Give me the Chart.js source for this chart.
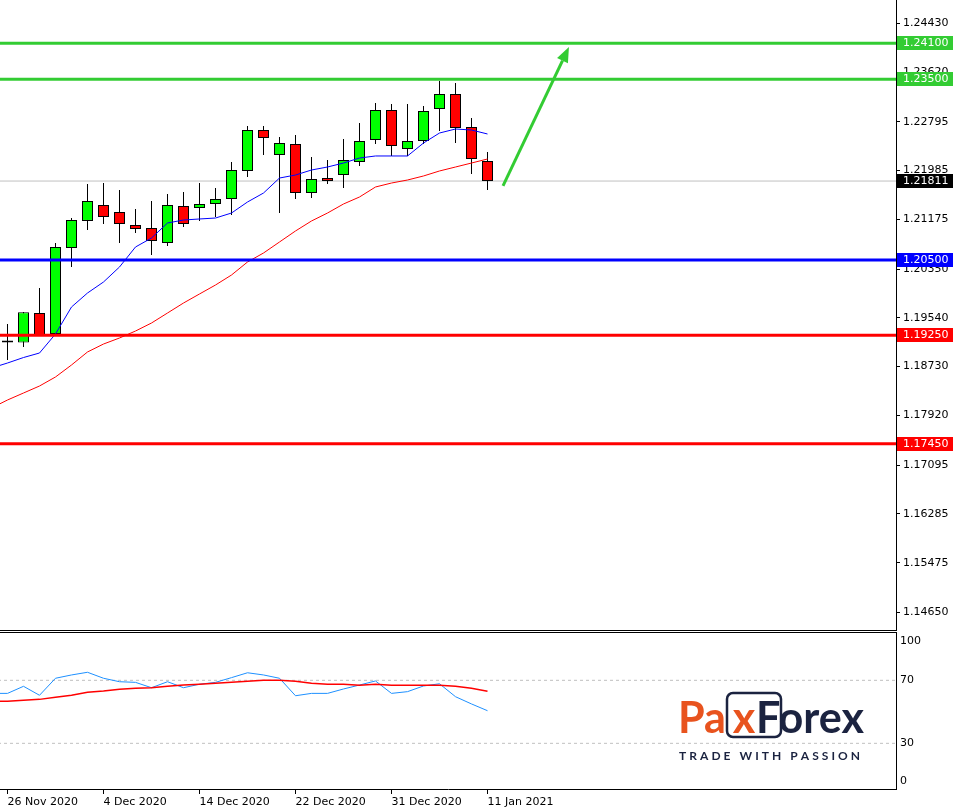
<!DOCTYPE html>
<html>
<head>
<meta charset="utf-8">
<script src="https://cdn.jsdelivr.net/npm/chart.js@4.4.1/dist/chart.umd.min.js"></script>
<style>
  html, body { margin: 0; padding: 0; background: #fff; }
  #wrap { position: relative; width: 960px; height: 812px; overflow: hidden; }
  canvas { position: absolute; left: 0; }
  #main { top: 0; }
  #osc { top: 631px; }
</style>
</head>
<body>
<div id="wrap">
  <canvas id="main" width="960" height="631"></canvas>
  <canvas id="osc" width="960" height="181"></canvas>
</div>
<script>
// daily candles, 26 Nov 2020 .. 11 Jan 2021
const opens  = [1.19164, 1.19130, 1.19620, 1.19272, 1.20699, 1.21148, 1.21413, 1.21297, 1.21081, 1.21031,
                1.20782, 1.21397, 1.21363, 1.21430, 1.21513, 1.21978, 1.22658, 1.22243, 1.22426, 1.21612,
                1.21861, 1.21911, 1.22127, 1.22492, 1.22990, 1.22343, 1.22476, 1.23007, 1.23256, 1.22708, 1.22144];
const highs  = [1.19438, 1.19637, 1.20035, 1.20782, 1.21197, 1.21762, 1.21778, 1.21662, 1.21347, 1.21480,
                1.21596, 1.21629, 1.21778, 1.21695, 1.22127, 1.22725, 1.22725, 1.22542, 1.22575, 1.22210,
                1.22160, 1.22509, 1.22774, 1.23107, 1.23090, 1.23090, 1.23057, 1.23472, 1.23439, 1.22857, 1.22293];
const lows   = [1.18840, 1.19056, 1.19238, 1.19238, 1.20384, 1.20998, 1.21098, 1.20782, 1.20948, 1.20583,
                1.20733, 1.21048, 1.21148, 1.21214, 1.21247, 1.21878, 1.22243, 1.21280, 1.21513, 1.21529,
                1.21762, 1.21695, 1.22061, 1.22426, 1.22227, 1.22227, 1.22426, 1.22642, 1.22442, 1.21928, 1.21662];
const closes = [1.19130, 1.19632, 1.19255, 1.20716, 1.21164, 1.21480, 1.21214, 1.21098, 1.21015, 1.20815,
                1.21413, 1.21098, 1.21430, 1.21513, 1.21994, 1.22658, 1.22525, 1.22442, 1.21612, 1.21845,
                1.21812, 1.22160, 1.22476, 1.22990, 1.22393, 1.22476, 1.22974, 1.23256, 1.22691, 1.22177, 1.21811];

// moving averages and oscillator start one bar before the first candle
const maFast = [1.18707, 1.18790, 1.18881, 1.18956, 1.19272, 1.19720, 1.19952, 1.20135, 1.20384, 1.20716,
                1.20865, 1.21114, 1.21164, 1.21181, 1.21197, 1.21280, 1.21463, 1.21612, 1.21861, 1.21911,
                1.21994, 1.22044, 1.22110, 1.22193, 1.22227, 1.22227, 1.22227, 1.22442, 1.22608, 1.22675,
                1.22658, 1.22592];
const maSlow = [1.18043, 1.18176, 1.18292, 1.18408, 1.18558, 1.18757, 1.18973, 1.19105, 1.19205, 1.19321,
                1.19454, 1.19620, 1.19786, 1.19936, 1.20085, 1.20251, 1.20467, 1.20616, 1.20799, 1.20982,
                1.21148, 1.21280, 1.21430, 1.21546, 1.21712, 1.21778, 1.21828, 1.21895, 1.21978, 1.22044,
                1.22110, 1.22177];
const oscMain   = [61.7, 61.7, 66.2, 60.5, 71.3, 73.4, 75.1, 71.3, 69.1, 68.7, 65.3, 69.1, 65.3, 67.5, 68.7, 71.7,
                   74.8, 73.4, 71.3, 60.2, 61.7, 61.7, 64.5, 67.0, 69.6, 61.7, 62.8, 66.4, 67.8, 59.6, 55.0, 50.7];
const oscSignal = [56.7, 56.7, 57.3, 57.9, 59.2, 60.5, 62.4, 63.2, 64.3, 64.9, 65.3, 66.2, 67.0, 67.5, 68.1, 68.7,
                   69.4, 70.0, 70.0, 69.4, 68.1, 67.5, 67.5, 66.8, 67.5, 66.8, 66.8, 66.8, 66.8, 66.2, 64.9, 63.0];
const FIRST = -1;

const priceTicks = [1.24430, 1.23620, 1.22795, 1.21985, 1.21175, 1.20350, 1.19540,
                    1.18730, 1.17920, 1.17095, 1.16285, 1.15475, 1.14650];
const levelValues = [1.2410, 1.2350, 1.2050, 1.1925, 1.1745];
const levelColors = ['#33CC33', '#33CC33', '#0000FF', '#FF0000', '#FF0000'];
const lastPrice = 1.21811;

const dateLabels  = ['26 Nov 2020', '4 Dec 2020', '14 Dec 2020', '22 Dec 2020', '31 Dec 2020', '11 Jan 2021'];
const dateTickIdx = [0, 6, 12, 18, 24, 30];
const oscLevels = [70, 30];
const oscTickLabels = [100, 70, 30, 0];

const arrowFrom = {x: 30.97, y: 1.21729};
const arrowTo   = {x: 35.09, y: 1.24036};

Chart.defaults.font.family = '"DejaVu Sans", sans-serif';
Chart.defaults.font.size = 11;
Chart.defaults.color = '#000';
Chart.defaults.animation = false;

const X_MIN = -0.46875, X_MAX = 55.53125;   // 16px per bar, first bar at 7.5px
const FONT = '11px "DejaVu Sans", sans-serif';

const series = (arr, start) => arr.map((v, k) => ({x: start + k, y: v}));
const hline = v => [{x: X_MIN - 2, y: v}, {x: X_MAX + 2, y: v}];

// price boxes on the right axis
const levelBoxes = {
  id: 'levelBoxes',
  afterDraw(chart) {
    const ctx = chart.ctx, y = chart.scales.y, left = chart.chartArea.right + 1;
    const boxes = levelValues.map((v, k) => ({v, c: levelColors[k]}));
    boxes.push({v: lastPrice, c: '#000'});
    ctx.save();
    // bottom edge of the price panel
    ctx.fillStyle = '#000';
    ctx.fillRect(0, 630, chart.chartArea.right + 1, 1);
    ctx.font = FONT;
    ctx.textBaseline = 'middle';
    boxes.forEach(b => {
      const py = Math.round(y.getPixelForValue(b.v));
      ctx.fillStyle = b.c;
      ctx.fillRect(left, py - 7, 56, 14);
      ctx.fillStyle = '#fff';
      ctx.fillText(b.v.toFixed(5), left + 6, py + 0.5);
    });
    ctx.restore();
  }
};

const trendArrow = {
  id: 'trendArrow',
  afterDatasetsDraw(chart) {
    const {ctx, scales: {x, y}} = chart;
    const x0 = x.getPixelForValue(arrowFrom.x), y0 = y.getPixelForValue(arrowFrom.y);
    const x1 = x.getPixelForValue(arrowTo.x),   y1 = y.getPixelForValue(arrowTo.y);
    const a = Math.atan2(y1 - y0, x1 - x0), head = 15, half = 6;
    const bx = x1 - head * Math.cos(a), by = y1 - head * Math.sin(a);
    ctx.save();
    ctx.strokeStyle = ctx.fillStyle = '#33CC33';
    ctx.lineWidth = 3;
    ctx.beginPath(); ctx.moveTo(x0, y0); ctx.lineTo(bx, by); ctx.stroke();
    ctx.beginPath();
    ctx.moveTo(x1, y1);
    ctx.lineTo(bx + half * Math.sin(a), by - half * Math.cos(a));
    ctx.lineTo(bx - half * Math.sin(a), by + half * Math.cos(a));
    ctx.closePath(); ctx.fill();
    ctx.restore();
  }
};

new Chart(document.getElementById('main'), {
  type: 'bar',
  data: {
    datasets: [
      ...levelValues.map((v, k) => ({
        type: 'line', data: hline(v), borderColor: levelColors[k], borderWidth: 3, clip: 0, order: 0
      })),
      {type: 'line', data: series(maFast, FIRST), borderColor: '#0000FF', borderWidth: 1, clip: 0, order: 1},
      {type: 'line', data: series(maSlow, FIRST), borderColor: '#FF0000', borderWidth: 1, clip: 0, order: 1},
      {
        type: 'bar', data: opens.map((o, i) => ({x: i, y: [o, closes[i]]})),
        backgroundColor: c => closes[c.dataIndex] >= opens[c.dataIndex] ? '#00FF00' : '#FF0000',
        borderColor: '#000', borderWidth: 1, borderSkipped: false, inflateAmount: 0,
        barThickness: 11, grouped: false, order: 2
      },
      {
        type: 'bar', data: highs.map((h, i) => ({x: i, y: [lows[i], h]})),
        backgroundColor: '#000', borderWidth: 0, inflateAmount: 0,
        barThickness: 1, grouped: false, order: 3
      },
      {type: 'line', data: hline(lastPrice), borderColor: '#C0C0C0', borderWidth: 1, clip: 0, order: 4}
    ]
  },
  options: {
    responsive: false, devicePixelRatio: 1, events: [],
    layout: {padding: 0},
    elements: {point: {radius: 0}, line: {tension: 0}},
    plugins: {legend: {display: false}, tooltip: {enabled: false}},
    scales: {
      x: {type: 'linear', min: X_MIN, max: X_MAX, bounds: 'data', offset: false, display: false},
      y: {
        type: 'linear', position: 'right', min: 1.143408, max: 1.248165, bounds: 'data', beginAtZero: false,
        afterBuildTicks: s => { s.ticks = priceTicks.map(v => ({value: v})); },
        afterFit: s => { s.width = 64; s.paddingTop = 0; s.paddingBottom = 0; },
        grid: {display: true, drawOnChartArea: false, tickLength: 4, color: '#000'},
        border: {display: true, color: '#000', width: 1},
        ticks: {color: '#000', padding: 3, autoSkip: false, font: {size: 11}, callback: v => v.toFixed(5)}
      }
    }
  },
  plugins: [trendArrow, levelBoxes]
});

// oscillator panel
const oscFrame = {
  id: 'oscFrame',
  afterDraw(chart) {
    const {ctx, chartArea, scales: {y}} = chart;
    ctx.save();
    ctx.fillStyle = '#000';
    ctx.fillRect(0, chartArea.top, chartArea.right + 1, 1);
    ctx.font = FONT;
    ctx.textBaseline = 'middle';
    oscTickLabels.forEach(v => {
      const py = Math.min(Math.max(y.getPixelForValue(v), chartArea.top + 9), chartArea.bottom - 8);
      ctx.fillText(String(v), chartArea.right + 4, py);
    });
    ctx.restore();
  }
};

const logo = {
  id: 'logo',
  afterDraw(chart) {
    const ctx = chart.ctx, off = 631;
    const orange = '#E8531E', navy = '#1B2340';
    const face = 'Lato, "Open Sans", sans-serif';
    ctx.save();
    ctx.font = `bold 42px ${face}`;
    const size = 42 * 108 / ctx.measureText('Forex').width;
    ctx.font = `bold ${size}px ${face}`;
    const base = 733 - off;
    const boxL = 727, boxR = 781;
    const xW = ctx.measureText('x').width;
    ctx.fillStyle = orange;
    ctx.fillText('Pa', 678, base);
    ctx.fillText('x', boxL + 4 + (26 - xW) / 2, base);
    ctx.fillStyle = navy;
    ctx.fillText('Forex', 756, base);
    ctx.strokeStyle = navy;
    ctx.lineWidth = 2.5;
    ctx.beginPath();
    ctx.roundRect(boxL, 693 - off, boxR - boxL, 44, 6);
    ctx.stroke();
    // tagline
    const tag = 'TRADE WITH PASSION';
    ctx.font = `bold 12px ${face}`;
    const plain = [...tag].reduce((s, ch) => s + ctx.measureText(ch).width, 0);
    const gap = (181 - plain) / (tag.length - 1);
    let tx = 679;
    [...tag].forEach(ch => { ctx.fillText(ch, tx, 760 - off); tx += ctx.measureText(ch).width + gap; });
    ctx.restore();
  }
};

new Chart(document.getElementById('osc'), {
  type: 'line',
  data: {
    datasets: [
      {data: series(oscSignal, FIRST), borderColor: '#FF0000', borderWidth: 1.5, clip: 0, order: 0},
      {data: series(oscMain, FIRST), borderColor: '#1E90FF', borderWidth: 1, clip: 0, order: 1},
      ...oscLevels.map(v => ({data: hline(v), borderColor: '#C0C0C0', borderWidth: 1, borderDash: [3, 3], clip: 0, order: 2}))
    ]
  },
  options: {
    responsive: false, devicePixelRatio: 1, events: [],
    layout: {padding: {top: 1, left: 0, right: 0, bottom: 0}},
    elements: {point: {radius: 0}, line: {tension: 0}},
    plugins: {legend: {display: false}, tooltip: {enabled: false}},
    scales: {
      x: {
        type: 'linear', min: X_MIN, max: X_MAX, bounds: 'data', offset: false,
        afterBuildTicks: s => { s.ticks = dateTickIdx.map(v => ({value: v})); },
        afterFit: s => { s.height = 23; s.paddingLeft = 0; s.paddingRight = 0; },
        grid: {display: true, drawOnChartArea: false, tickLength: 5, color: '#000'},
        border: {display: true, color: '#000'},
        ticks: {align: 'start', maxRotation: 0, autoSkip: false, padding: 2, color: '#000',
                callback: v => dateLabels[dateTickIdx.indexOf(v)]}
      },
      y: {
        type: 'linear', position: 'right', min: 1.0, max: 100.67, bounds: 'data',
        afterFit: s => { s.width = 64; s.paddingTop = 0; s.paddingBottom = 0; },
        grid: {display: false},
        border: {display: true, color: '#000'},
        ticks: {display: false}
      }
    }
  },
  plugins: [oscFrame, logo]
});
</script>
</body>
</html>
